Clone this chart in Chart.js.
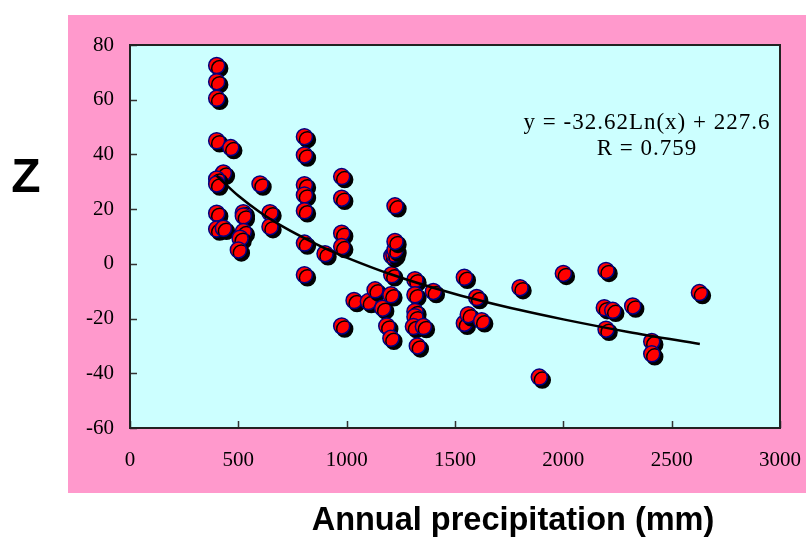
<!DOCTYPE html>
<html lang="en">
<head>
    <meta charset="UTF-8">
    <title>Z vs annual precipitation</title>
    <script src="https://cdn.jsdelivr.net/npm/chart.js"></script>
    <style>
        html, body {
            margin: 0;
            padding: 0;
            background: #ffffff;
        }
        #wrap {
            width: 806px;
            height: 537px;
        }
    </style>
</head>
<body>
    <div id="wrap"><canvas id="zChart" width="806" height="537"></canvas></div>

    <script>
        const precipitation = [
            400, 400, 400, 400, 465, 431, 400, 400, 600, 400,
            523, 523, 646, 400, 431, 523, 646, 508, 500, 805,
            805, 805, 805, 805, 805, 805, 900, 977, 977, 977,
            977, 977, 1034, 1100, 1131, 1166, 1185, 1204, 1204, 1208,
            1208, 1218, 1223, 1223, 1223, 1315, 1315, 1315, 1315, 1308,
            1354, 1326, 1400, 1543, 1543, 1561, 1600, 1623, 1800, 1889,
            2000, 2197, 2189, 2228, 2197, 2320, 2408, 2408, 2628
        ];
        const zValues = [
            72.5, 66.6, 60.5, 45, 42.5, 33.2, 31, 29.2, 29.2, 18.5,
            18.7, 17.5, 18.7, 12.7, 13, 11.8, 13.6, 9.4, 5.1, 46.5,
            39.8, 28.9, 25.2, 19.4, 7.6, -4, 3.7, 31.9, 24, 11.2,
            6.3, -22.7, -13.4, -13.8, -9.5, -16.2, -22.7, -27.2, -11.3, -4,
            2.9, 3.6, 5.1, 8.2, 21.2, -5.8, -11.3, -17.4, -19.3, -22.9,
            -22.9, -30, -10.1, -4.9, -21.7, -18.6, -12.3, -20.8, -8.7, -41.4,
            -3.5, -2.4, -16, -17, -23.9, -15.4, -28.4, -32.9, -10.5
        ];

        // logarithmic trend line
        const trendX = [400, 500, 600, 700, 800, 900, 1000, 1200, 1500, 1800, 2000, 2300, 2630];
        const trendY = [32.2, 24.9, 18.9, 13.9, 9.6, 5.7, 2.3, -3.7, -11.0, -16.9, -20.3, -24.9, -29.3];

        const xTickValues = [0, 500, 1000, 1500, 2000, 2500, 3000];
        const yTickValues = [-60, -40, -20, 0, 20, 40, 60, 80];

        const equationLines = ["y = -32.62Ln(x) + 227.6", "R = 0.759"];
        const xTitle = "Annual precipitation (mm)";
        const yTitle = "Z";

        const tickFont = { family: "'Liberation Serif', 'Times New Roman', serif", size: 21 };

        const backdrop = {
            id: "backdrop",
            beforeDraw(chart) {
                const ctx = chart.ctx;
                const a = chart.chartArea;
                ctx.save();
                ctx.fillStyle = "#ffffff";
                ctx.fillRect(0, 0, chart.width, chart.height);
                ctx.fillStyle = "#ff99cc";
                ctx.fillRect(68, 15, chart.width - 68, 478);
                ctx.fillStyle = "#ccffff";
                ctx.fillRect(a.left, a.top, a.right - a.left, a.bottom - a.top);
                ctx.restore();
            },
            beforeDatasetsDraw(chart) {
                // inward tick marks like the original
                const ctx = chart.ctx;
                const a = chart.chartArea;
                const xs = chart.scales.x;
                const ys = chart.scales.y;
                ctx.save();
                ctx.strokeStyle = "#333333";
                ctx.lineWidth = 1.5;
                ctx.beginPath();
                ys.ticks.forEach(t => {
                    const py = Math.round(ys.getPixelForValue(t.value)) + 0.5;
                    ctx.moveTo(a.left, py);
                    ctx.lineTo(a.left + 7, py);
                });
                xs.ticks.forEach(t => {
                    const px = Math.round(xs.getPixelForValue(t.value)) + 0.5;
                    ctx.moveTo(px, a.bottom);
                    ctx.lineTo(px, a.bottom - 7);
                });
                ctx.stroke();
                ctx.restore();
            },
            beforeDatasetDraw(chart, args) {
                const ctx = chart.ctx;
                ctx.save();
                if (args.meta.type === "scatter") {
                    ctx.shadowColor = "#000000";
                    ctx.shadowOffsetX = 3;
                    ctx.shadowOffsetY = 3;
                    ctx.shadowBlur = 0;
                }
            },
            afterDatasetDraw(chart) {
                chart.ctx.restore();
            },
            afterDraw(chart) {
                const ctx = chart.ctx;
                const a = chart.chartArea;
                ctx.save();
                ctx.strokeStyle = "#222222";
                ctx.lineWidth = 2;
                ctx.strokeRect(a.left, a.top, a.right - a.left, a.bottom - a.top);

                ctx.fillStyle = "#000000";
                ctx.textAlign = "center";
                ctx.textBaseline = "alphabetic";
                ctx.font = "23px 'Liberation Serif', 'Times New Roman', serif";
                ctx.letterSpacing = "1px";
                ctx.fillText(equationLines[0], 647, 129);
                ctx.fillText(equationLines[1], 647, 155);
                ctx.letterSpacing = "0px";

                ctx.font = "bold 48px 'Liberation Sans', Arial, sans-serif";
                ctx.textBaseline = "middle";
                ctx.fillText(yTitle, 26, 179);

                ctx.font = "bold 32.5px 'Liberation Sans', Arial, sans-serif";
                ctx.fillText(xTitle, 513, 521);
                ctx.restore();
            }
        };

        const ctx = document.getElementById("zChart").getContext("2d");
        new Chart(ctx, {
            type: "scatter",
            data: {
                datasets: [
                    {
                        type: "line",
                        label: "Trend",
                        data: trendX.map((x, i) => ({ x: x, y: trendY[i] })),
                        borderColor: "#000000",
                        borderWidth: 2.5,
                        pointRadius: 0,
                        cubicInterpolationMode: "monotone",
                        fill: false,
                        order: 0
                    },
                    {
                        type: "scatter",
                        label: "Z",
                        data: precipitation.map((x, i) => ({ x: x, y: zValues[i] })),
                        backgroundColor: "#ff0000",
                        borderColor: "#000080",
                        borderWidth: 1.5,
                        pointRadius: 8,
                        order: 1
                    }
                ]
            },
            options: {
                responsive: false,
                animation: false,
                events: [],
                layout: {
                    padding: { left: 68, top: 45, right: 26, bottom: 44 }
                },
                plugins: {
                    legend: { display: false },
                    tooltip: { enabled: false }
                },
                scales: {
                    x: {
                        type: "linear",
                        min: 0,
                        max: 3000,
                        afterBuildTicks: s => { s.ticks = xTickValues.map(v => ({ value: v })); },
                        afterFit: s => { s.height = 65; },
                        // hidden grid; tickLength only spaces the labels off the axis
                        grid: { display: false, drawTicks: true, tickLength: 20 },
                        border: { display: false },
                        ticks: { color: "#000000", font: tickFont, padding: 0, maxRotation: 0, callback: v => String(v) }
                    },
                    y: {
                        type: "linear",
                        min: -60,
                        max: 80,
                        afterBuildTicks: s => { s.ticks = yTickValues.map(v => ({ value: v })); },
                        afterFit: s => { s.width = 62; },
                        grid: { display: false, drawTicks: true, tickLength: 16 },
                        border: { display: false },
                        ticks: { color: "#000000", font: tickFont, padding: 0, callback: v => String(v) }
                    }
                }
            },
            plugins: [backdrop]
        });
    </script>
</body>
</html>
